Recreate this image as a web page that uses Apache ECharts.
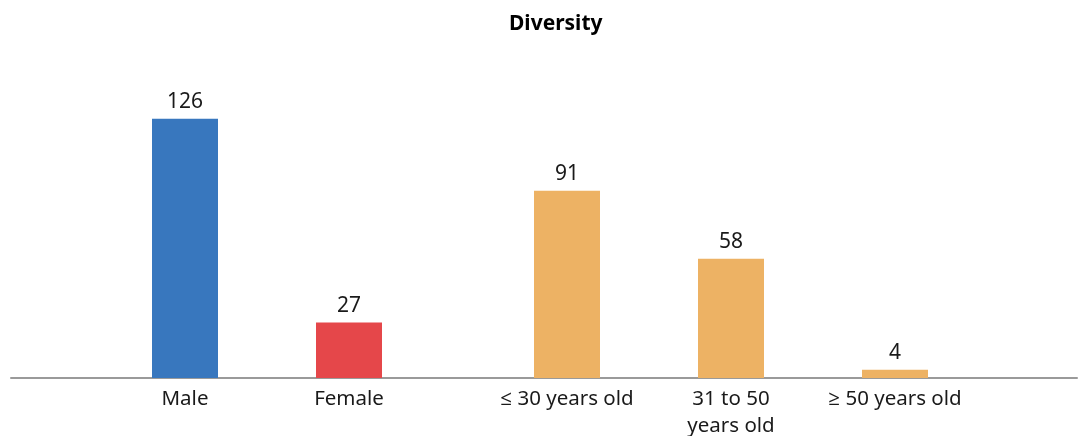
<!DOCTYPE html>
<html>
<head>
<meta charset="utf-8">
<script src="https://cdn.jsdelivr.net/npm/echarts@6/dist/echarts.min.js"></script>
<style>
  html, body { margin: 0; padding: 0; background: #ffffff; }
  #chart { width: 1078px; height: 436px; }
</style>
</head>
<body>
<div id="chart"></div>
<script>
// Headcount split by gender and by age band
const genderCategories = ['Male', 'Female'];
const genderValues = [126, 27];
const genderColors = ['#3877BE', '#E5474A'];

const ageCategories = ['\u2264 30 years old', '31 to 50 years old', '\u2265 50 years old'];
const ageValues = [91, 58, 4];
const ageColor = '#EDB264';

const FONT = '"Noto Sans", "Open Sans", sans-serif';
const TOP = 90, BOTTOM = 58, Y_MAX = 140;

const chart = echarts.init(document.getElementById('chart'), null, { renderer: 'canvas' });

// long category names wrap after their third word
const wrapLabel = v => v.length > 16 ? v.replace(/^(\S+ \S+ \S+) /, '$1\n') : v;

const labelStyle = { show: true, position: 'top', color: '#1a1a1a', fontFamily: FONT, fontSize: 21, distance: 6 };
const axisLabelStyle = { color: '#1a1a1a', fontFamily: FONT, fontSize: 20.5, margin: 8, lineHeight: 27, interval: 0, formatter: wrapLabel };

const gridBase = { top: TOP, bottom: BOTTOM, containLabel: false, outerBoundsMode: 'none' };

chart.setOption({
  animation: false,
  title: {
    text: 'Diversity',
    left: 504,
    top: 9,
    textStyle: { fontFamily: FONT, fontSize: 21, fontWeight: 'bold', color: '#000' }
  },
  grid: [
    Object.assign({ left: 103, width: 328 }, gridBase),
    Object.assign({ left: 485, width: 492 }, gridBase),
    Object.assign({ left: 11, right: 1 }, gridBase)
  ],
  xAxis: [
    { type: 'category', gridIndex: 0, data: genderCategories,
      axisLine: { show: false }, axisTick: { show: false }, axisLabel: axisLabelStyle },
    { type: 'category', gridIndex: 1, data: ageCategories,
      axisLine: { show: false }, axisTick: { show: false }, axisLabel: axisLabelStyle },
    { type: 'category', gridIndex: 2, data: [''],
      axisLine: { show: true, lineStyle: { color: '#9a9a9a', width: 2 } },
      axisTick: { show: false }, axisLabel: { show: false } }
  ],
  yAxis: [0, 1, 2].map(i => ({
    type: 'value', gridIndex: i, min: 0, max: Y_MAX,
    show: false, splitLine: { show: false }
  })),
  series: [
    {
      type: 'bar', xAxisIndex: 0, yAxisIndex: 0, barWidth: 66,
      data: genderValues.map((v, i) => ({ value: v, itemStyle: { color: genderColors[i] } })),
      label: labelStyle
    },
    {
      type: 'bar', xAxisIndex: 1, yAxisIndex: 1, barWidth: 66,
      itemStyle: { color: ageColor },
      data: ageValues,
      label: labelStyle
    }
  ]
});
</script>
</body>
</html>
